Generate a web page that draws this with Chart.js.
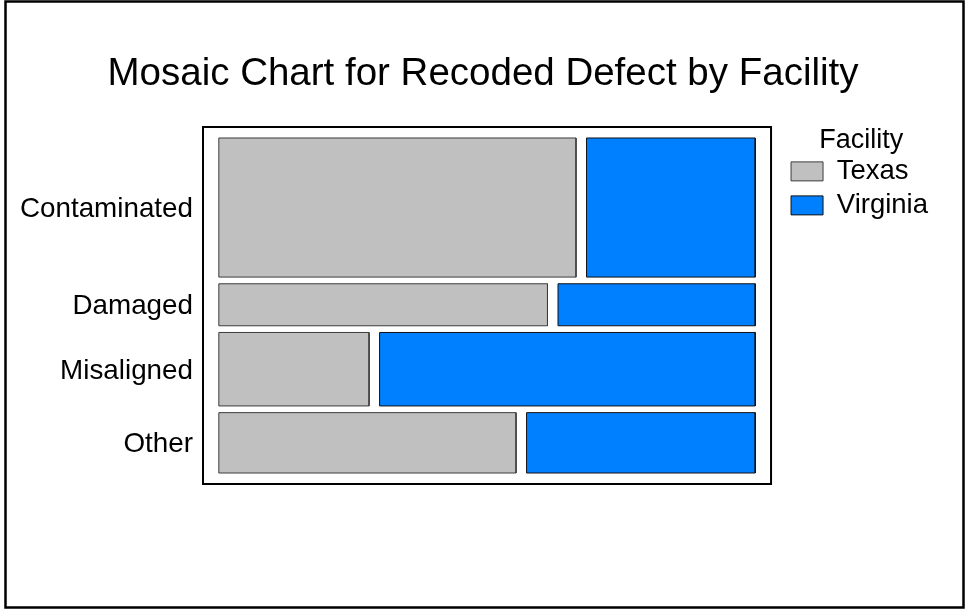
<!DOCTYPE html>
<html>
<head>
<meta charset="utf-8">
<script src="https://cdn.jsdelivr.net/npm/chart.js@4"></script>
<style>
  body { margin: 0; background: #fff; }
  canvas { display: block; }
</style>
</head>
<body>
<canvas id="mosaicChart" width="966" height="610"></canvas>
<script>
const categories = ['Contaminated', 'Damaged', 'Misaligned', 'Other'];
const facilities = ['Texas', 'Virginia'];
const texasCounts = [36, 10, 8, 13];
const virginiaCounts = [17, 6, 20, 10];

const fillColors = ['#C0C0C0', '#0080FF'];
const edgeColors = ['#3C3C3C', '#101010'];

// gaps and padding in axis units (the cells span 0..1 on both axes)
const xGap = 0.0196, yGap = 0.02;
const xPad = 0.0295, yPad = 0.0328;

const rowTotals = categories.map((c, i) => texasCounts[i] + virginiaCounts[i]);
const grandTotal = rowTotals.reduce((a, b) => a + b, 0);

// one closed rectangle per cell, drawn as a filled line shape
const datasets = [];
const rowCenters = [];
let yTop = 0;
categories.forEach((cat, i) => {
    const h = rowTotals[i] / grandTotal * (1 - yGap * (categories.length - 1));
    const yBot = yTop + h;
    rowCenters.push((yTop + yBot) / 2);
    const split = texasCounts[i] / rowTotals[i] * (1 - xGap);
    const spans = [[0, split], [split + xGap, 1]];
    spans.forEach(([x0, x1], f) => {
        datasets.push({
            label: facilities[f],
            data: [
                {x: x0, y: yTop}, {x: x1, y: yTop}, {x: x1, y: yBot},
                {x: x0, y: yBot}, {x: x0, y: yTop}
            ],
            showLine: true,
            fill: 'shape',
            backgroundColor: fillColors[f],
            borderColor: edgeColors[f],
            borderWidth: 1,
            pointRadius: 0,
            tension: 0
        });
    });
    yTop = yBot + yGap;
});

// plot frame + outer border
const framePlugin = {
    id: 'frame',
    afterDraw(chart) {
        const {ctx, chartArea: a} = chart;
        ctx.save();
        ctx.strokeStyle = '#000';
        ctx.lineWidth = 2;
        ctx.strokeRect(a.left, a.top, a.right - a.left, a.bottom - a.top);
        ctx.lineWidth = 2.5;
        ctx.strokeRect(5.5, 1.5, 958, 606);
        ctx.restore();
    }
};

// hidden axis used only as a spacer on the right
const spacer = (w, weight) => ({
    type: 'linear',
    position: 'right',
    display: false,
    weight: weight,
    afterFit: s => { s.width = w; }
});

Chart.defaults.font.family = '"Liberation Sans", Arial, sans-serif';
Chart.defaults.color = '#000';

new Chart(document.getElementById('mosaicChart'), {
    type: 'scatter',
    data: { datasets: datasets },
    options: {
        responsive: false,
        animation: false,
        events: [],
        layout: { padding: { top: 10, left: 0, right: 0, bottom: 126 } },
        scales: {
            x: { type: 'linear', min: -xPad, max: 1 + xPad, display: false },
            y: {
                type: 'linear',
                reverse: true,
                min: -yPad,
                max: 1 + yPad,
                grid: { display: false, drawTicks: false },
                border: { display: false },
                afterBuildTicks: s => { s.ticks = rowCenters.map(v => ({ value: v })); },
                afterFit: s => { s.width = 203; },
                ticks: {
                    autoSkip: false,
                    padding: 10,
                    labelOffset: 2,
                    font: { size: 27.8 },
                    color: '#000',
                    callback: (v, i) => categories[i]
                }
            },
            gutter: spacer(13.5, 0),
            outer: spacer(28, 2000)
        },
        plugins: {
            title: {
                display: true,
                text: 'Mosaic Chart for Recoded Defect by Facility',
                font: { size: 38.5, weight: 'normal' },
                color: '#000',
                padding: { top: 41, bottom: 29.8 }
            },
            legend: {
                position: 'right',
                align: 'start',
                fullSize: false,
                title: {
                    display: true,
                    text: 'Facility',
                    font: { size: 27, lineHeight: 0.894 },
                    color: '#000',
                    padding: 0
                },
                labels: {
                    boxWidth: 32,
                    boxHeight: 19,
                    padding: 6.5,
                    font: { size: 27.5 },
                    color: '#000',
                    filter: (item, data) =>
                        data.datasets.findIndex(d => d.label === item.text) === item.datasetIndex
                }
            },
            tooltip: { enabled: false }
        }
    },
    plugins: [framePlugin]
});
</script>
</body>
</html>
